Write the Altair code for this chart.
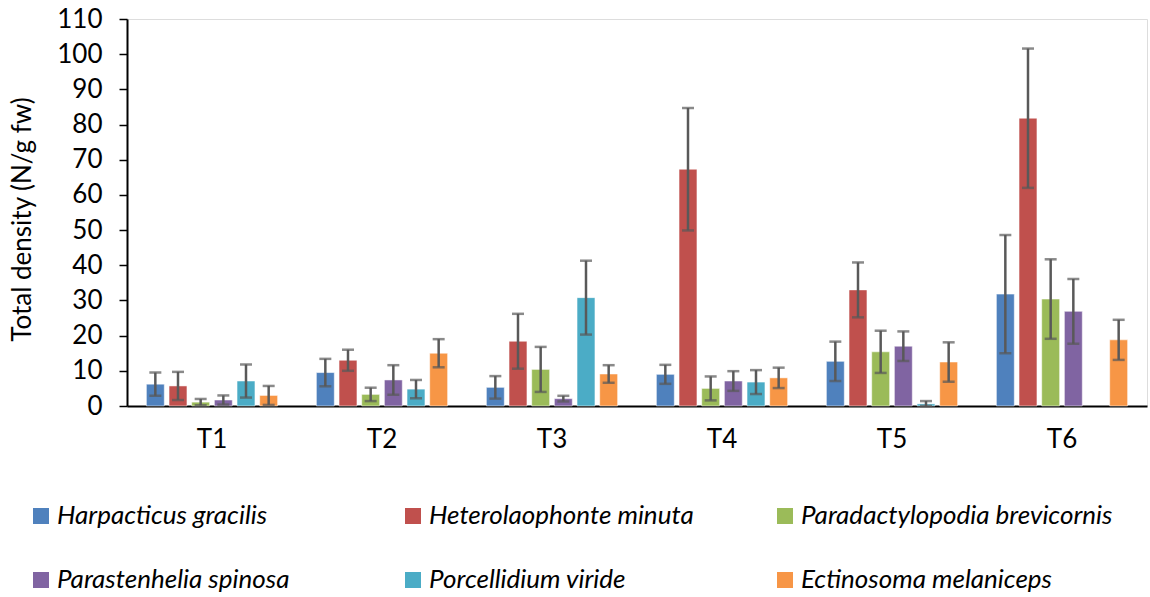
import altair as alt
import pandas as pd

categories = ["T1", "T2", "T3", "T4", "T5", "T6"]
species = [
    "Harpacticus gracilis",
    "Heterolaophonte minuta",
    "Paradactylopodia brevicornis",
    "Parastenhelia spinosa",
    "Porcellidium viride",
    "Ectinosoma melaniceps",
]
colors = ["#4F81BD", "#C0504D", "#9BBB59", "#8064A2", "#4BACC6", "#F79646"]
y_ticks = [0, 10, 20, 30, 40, 50, 60, 70, 80, 90, 100, 110]

harpacticus_mean = [6.2, 9.5, 5.3, 9.0, 12.7, 31.8]
harpacticus_err = [3.3, 3.9, 3.2, 2.7, 5.6, 16.8]
heterolaophonte_mean = [5.7, 13.0, 18.4, 67.3, 33.0, 81.8]
heterolaophonte_err = [4.0, 3.0, 7.8, 17.4, 7.8, 19.8]
paradactylopodia_mean = [1.1, 3.3, 10.4, 5.0, 15.4, 30.4]
paradactylopodia_err = [0.9, 1.9, 6.4, 3.4, 6.0, 11.3]
parastenhelia_mean = [1.7, 7.4, 2.1, 7.1, 17.0, 26.9]
parastenhelia_err = [1.3, 4.2, 0.8, 2.8, 4.2, 9.2]
porcellidium_mean = [7.1, 4.8, 30.8, 6.8, 0.6, None]
porcellidium_err = [4.7, 2.6, 10.5, 3.4, 0.8, None]
ectinosoma_mean = [3.0, 15.0, 9.1, 8.0, 12.5, 18.8]
ectinosoma_err = [2.7, 4.0, 2.5, 2.9, 5.6, 5.7]

means = [harpacticus_mean, heterolaophonte_mean, paradactylopodia_mean,
         parastenhelia_mean, porcellidium_mean, ectinosoma_mean]
errs = [harpacticus_err, heterolaophonte_err, paradactylopodia_err,
        parastenhelia_err, porcellidium_err, ectinosoma_err]

rows = []
for sp, ms, es in zip(species, means, errs):
    for c, m, e in zip(categories, ms, es):
        if m is None:
            rows.append(dict(cat=c, species=sp, mean=None, lo=None, hi=None))
        else:
            rows.append(dict(cat=c, species=sp, mean=m, lo=max(0.0, m - e), hi=m + e))
df = pd.DataFrame(rows)

FONT = "Lato"
FS = 26
TITLE = "Total density (N/g fw)"

x_axis = alt.Axis(title=None, labelAngle=0, ticks=False, labelPadding=20,
                  labelFont=FONT, labelFontSize=FS, labelColor="black",
                  domainColor="black", domainWidth=2)
y_axis = alt.Axis(title=TITLE, values=y_ticks, grid=False, tickSize=8,
                  tickColor="black", tickWidth=1.5, domainColor="black",
                  domainWidth=2, labelFont=FONT, labelFontSize=FS,
                  labelColor="black", labelPadding=17, titleFont=FONT,
                  titleFontSize=FS, titleFontWeight="normal", titleColor="black",
                  titleX=-105, titleY=200, titleAlign="center",
                  titleBaseline="middle")

x = alt.X("cat:N", sort=categories,
          scale=alt.Scale(paddingInner=0.2, paddingOuter=0.1), axis=x_axis)
xoff = alt.XOffset("species:N", sort=species,
                   scale=alt.Scale(paddingInner=0.21, paddingOuter=0.105))
yscale = alt.Scale(domain=[0, 110], nice=False)

base = alt.Chart(df)

bars = base.mark_bar(stroke="white", strokeWidth=1, strokeOpacity=0.5).encode(
    x=x,
    xOffset=xoff,
    y=alt.Y("mean:Q", scale=yscale, axis=y_axis),
    color=alt.Color(
        "species:N", sort=species,
        scale=alt.Scale(domain=species, range=colors),
        legend=alt.Legend(
            title=None, orient="none", legendX=-99, legendY=484,
            direction="horizontal", columns=3, gridAlign="all",
            columnPadding=31, rowPadding=38, symbolType="square",
            symbolSize=256, symbolStrokeWidth=0, labelFont=FONT,
            labelFontSize=FS, labelFontStyle="italic", labelColor="black",
            labelLimit=600, labelOffset=3, padding=0,
        ),
    ),
)

rules = base.mark_rule(color="#595959", strokeWidth=2.5).encode(
    x=x, xOffset=xoff,
    y=alt.Y("lo:Q", scale=yscale, axis=y_axis), y2="hi:Q",
)
caps_hi = base.mark_tick(color="#595959", thickness=2.5, size=12).encode(
    x=x, xOffset=xoff, y=alt.Y("hi:Q", scale=yscale, axis=y_axis),
)
caps_lo = base.mark_tick(color="#595959", thickness=2.5, size=12).encode(
    x=x, xOffset=xoff, y=alt.Y("lo:Q", scale=yscale, axis=y_axis),
)

chart = alt.layer(bars, rules, caps_hi, caps_lo).properties(
    width=1020, height=387, autosize="none",
    padding={"left": 127, "top": 19, "right": 3, "bottom": 191},
).configure_view(stroke=None).configure(background="white")

chart.save("out.html", embed_options={"renderer": "svg", "actions": False})
